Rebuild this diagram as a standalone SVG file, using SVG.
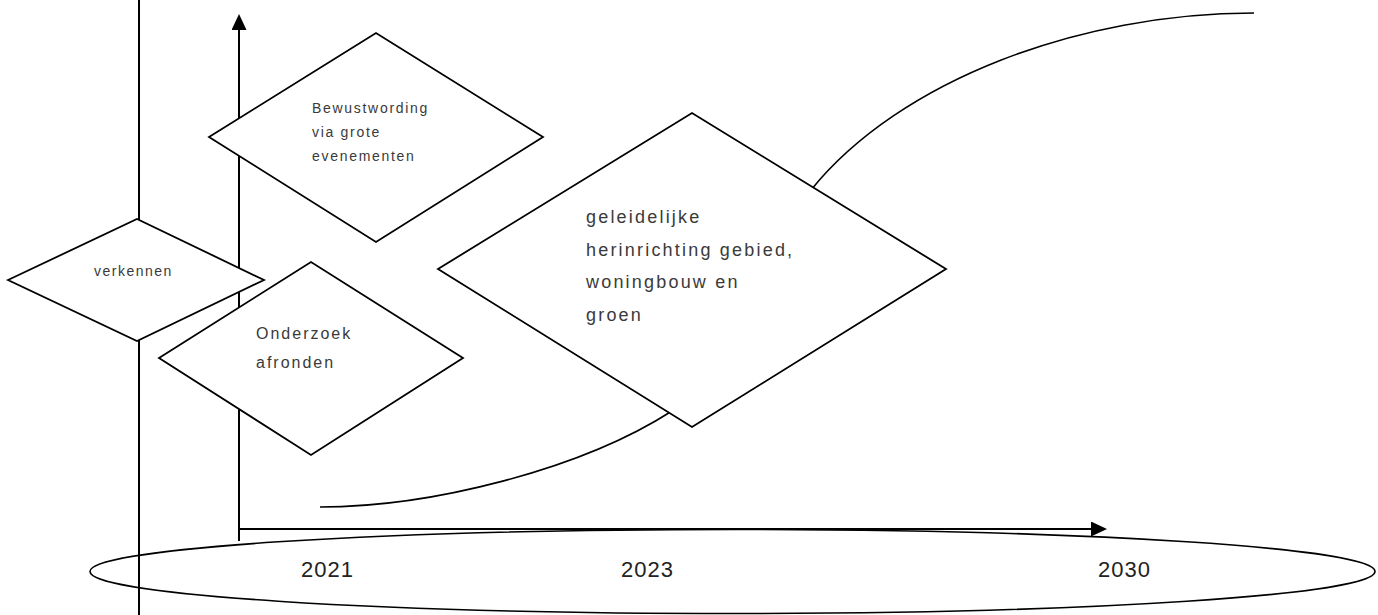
<svg xmlns="http://www.w3.org/2000/svg" width="1378" height="615" viewBox="0 0 1378 615">
<style>
.ln{fill:none;stroke:#000;stroke-width:2}
.thin{fill:none;stroke:#000;stroke-width:1.6}
.dia{fill:#fff;stroke:#000;stroke-width:1.8;stroke-linejoin:miter}
.t{font-family:"Liberation Sans",Arial,sans-serif;fill:#3a3a3a}
.s14{font-size:14px;letter-spacing:1.7px}
.s16{font-size:16px;letter-spacing:2px}
.s18{font-size:18px;letter-spacing:2.2px}
.yr{font-size:22px;letter-spacing:1px;fill:#222}
</style>
<defs>
<marker id="ah" markerWidth="16" markerHeight="15" refX="0" refY="7.5" orient="auto" markerUnits="userSpaceOnUse">
<path d="M0,0 L16,7.5 L0,15 z" fill="#000"/>
</marker>
</defs>
<g id="connectors">
<line class="ln" x1="139" y1="0" x2="139" y2="615"/>
<line class="ln" x1="239" y1="541" x2="239" y2="30" marker-end="url(#ah)"/>
<line class="ln" x1="239" y1="529" x2="1091" y2="529" marker-end="url(#ah)"/>
<path class="thin" d="M320,507 C430,507 580,470 672,411"/>
<path class="thin" d="M811,190 C900,80 1080,13 1254,13"/>
</g>
<g id="timeline">
<ellipse class="thin" cx="732.5" cy="571.5" rx="642.5" ry="42"/>
<text class="t yr" x="301" y="577">2021</text>
<text class="t yr" x="621" y="577">2023</text>
<text class="t yr" x="1098" y="577">2030</text>
</g>
<g id="node-bewustwording">
<polygon class="dia" points="209,137 376,33 543,137 376,242"/>
<text class="t s14" x="312"><tspan x="312" y="113">Bewustwording</tspan><tspan x="312" y="137">via grote</tspan><tspan x="312" y="161">evenementen</tspan></text>
</g>
<g id="node-verkennen">
<polygon class="dia" points="8,280 137,219 264,280 137,341"/>
<text class="t s14" x="94" y="276" style="letter-spacing:1.5px">verkennen</text>
</g>
<g id="node-onderzoek">
<polygon class="dia" points="159,358 311,262 463,358 311,455"/>
<text class="t s16"><tspan x="256" y="339">Onderzoek</tspan><tspan x="256" y="368">afronden</tspan></text>
</g>
<g id="node-herinrichting">
<polygon class="dia" points="438,269 692,113 946,269 692,427"/>
<text class="t s18"><tspan x="586" y="223">geleidelijke</tspan><tspan x="586" y="255.5">herinrichting gebied,</tspan><tspan x="586" y="288">woningbouw en</tspan><tspan x="586" y="320.5">groen</tspan></text>
</g>
</svg>
